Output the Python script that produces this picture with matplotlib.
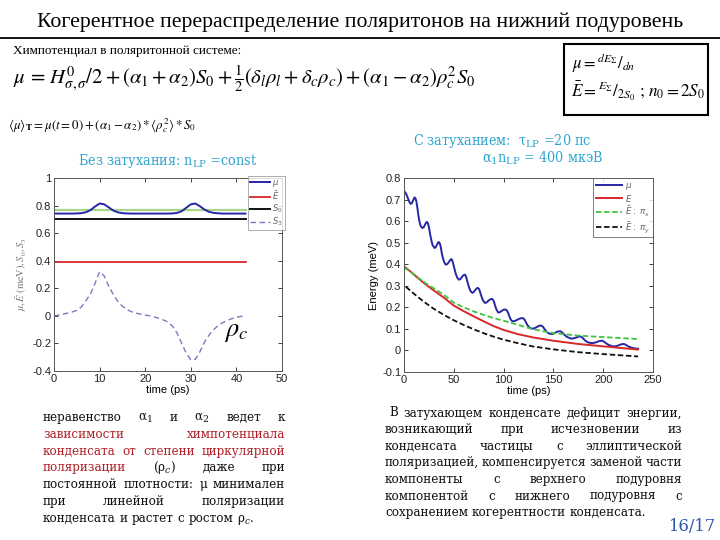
import matplotlib
matplotlib.use('Agg')
import matplotlib.pyplot as plt
from matplotlib.patches import Rectangle
from matplotlib.ticker import FuncFormatter

plt.rcParams['axes.unicode_minus'] = False

# ---- data ----
# left panel: no damping, n_LP = const
t_nd = list(range(0, 43))
mu_nd = [0.742, 0.742, 0.742, 0.742, 0.742, 0.743, 0.745, 0.752, 0.767, 0.793,
         0.815, 0.809, 0.787, 0.764, 0.751, 0.745, 0.743, 0.742, 0.742, 0.742,
         0.742, 0.742, 0.742, 0.742, 0.742, 0.742, 0.743, 0.747, 0.759, 0.784,
         0.809, 0.815, 0.795, 0.771, 0.755, 0.747, 0.744, 0.742, 0.742, 0.742,
         0.742, 0.742, 0.742]
s3_nd = [0.0, 0.005, 0.012, 0.02, 0.028, 0.04, 0.065, 0.11, 0.16, 0.235,
         0.32, 0.29, 0.215, 0.155, 0.105, 0.07, 0.045, 0.03, 0.02, 0.012,
         0.006, 0.0, -0.008, -0.018, -0.03, -0.045, -0.075, -0.125, -0.2, -0.27,
         -0.32, -0.315, -0.26, -0.19, -0.14, -0.1, -0.07, -0.05, -0.033, -0.02,
         -0.01, -0.004, 0.002]
t_flat = [0, 42]
e_nd = [0.39, 0.39]
s0_nd = [0.70, 0.70]
green_nd = [0.765, 0.765]

# right panel: damped, tau_LP = 20 ps
t_mu = [0, 2, 4, 5.5, 6.7, 8, 9.3, 10.5, 11.5, 12.5, 13.5, 14.5, 15.5, 16.7, 18.4,
        19.8, 21, 22, 23, 24, 25, 26.2, 27.5, 28.7, 30.8, 32, 33, 34, 35, 36, 37,
        38, 39, 40.3, 41.8, 43.5, 45, 46.5, 47.5, 48.5, 49.5, 50.8, 52, 53.5, 55.2,
        56.8, 58, 59.5, 61, 62, 63, 64.3, 65.5, 67, 68.6, 70, 71.5, 73, 74.3, 75.5,
        76.5, 77.5, 78.5, 80, 81.5, 83.3, 85, 87, 88.7, 90, 91, 92.5, 94.5, 96, 98,
        100, 102, 103.5, 104.5, 105.5, 106.5, 107.7, 109, 111.5, 114, 117, 119.5,
        121, 122.5, 124, 125.5, 127, 129, 131, 133, 135.5, 137.5, 139.5, 141, 143,
        144.5, 146, 148, 150, 152, 154.5, 157, 159, 161, 163, 165, 167, 169, 171,
        173, 175, 177, 179, 181, 183, 185, 187, 189, 191.5, 194, 196.5, 199, 201,
        203, 205, 207, 209, 211.5, 214, 216, 218.5, 220.5, 222.5, 224, 226, 228,
        230, 232, 235]
mu_d = [0.74, 0.728, 0.705, 0.688, 0.68, 0.684, 0.697, 0.71, 0.706, 0.69, 0.66,
        0.625, 0.598, 0.577, 0.568, 0.572, 0.582, 0.592, 0.596, 0.59, 0.572, 0.54,
        0.51, 0.488, 0.475, 0.48, 0.49, 0.499, 0.503, 0.496, 0.478, 0.45, 0.43,
        0.41, 0.398, 0.401, 0.41, 0.42, 0.424, 0.418, 0.40, 0.375, 0.355, 0.337,
        0.328, 0.332, 0.34, 0.348, 0.352, 0.346, 0.33, 0.308, 0.29, 0.274, 0.267,
        0.271, 0.28, 0.288, 0.29, 0.284, 0.27, 0.255, 0.24, 0.227, 0.22, 0.224,
        0.232, 0.238, 0.239, 0.23, 0.215, 0.193, 0.176, 0.177, 0.183, 0.189, 0.19,
        0.184, 0.175, 0.162, 0.15, 0.14, 0.135, 0.137, 0.143, 0.149, 0.15, 0.143,
        0.13, 0.117, 0.108, 0.103, 0.101, 0.103, 0.108, 0.114, 0.116, 0.11, 0.10,
        0.088, 0.082, 0.078, 0.076, 0.078, 0.083, 0.088, 0.089, 0.083, 0.073,
        0.065, 0.06, 0.056, 0.055, 0.057, 0.06, 0.064, 0.065, 0.06, 0.05, 0.042,
        0.037, 0.035, 0.034, 0.036, 0.04, 0.044, 0.045, 0.04, 0.033, 0.027, 0.023,
        0.02, 0.019, 0.021, 0.025, 0.029, 0.03, 0.027, 0.022, 0.017, 0.013, 0.011,
        0.009, 0.008]
t_e = [0, 5, 10, 15, 20, 25, 30, 40, 50, 60, 70, 80, 90, 100, 115, 130, 150, 175, 200, 235]
e_d = [0.39, 0.372, 0.352, 0.332, 0.313, 0.295, 0.278, 0.245, 0.208, 0.182, 0.158,
       0.135, 0.113, 0.095, 0.075, 0.06, 0.045, 0.03, 0.019, 0.004]
ex_d = [0.385, 0.37, 0.352, 0.335, 0.318, 0.302, 0.288, 0.258, 0.222, 0.2, 0.181,
        0.165, 0.15, 0.138, 0.118, 0.098, 0.08, 0.069, 0.062, 0.053]
t_ey = [2, 5, 10, 15, 20, 25, 30, 40, 50, 60, 70, 80, 90, 100, 115, 130, 150, 175, 200, 235]
ey_d = [0.295, 0.283, 0.263, 0.244, 0.226, 0.209, 0.193, 0.165, 0.14, 0.118, 0.098,
        0.08, 0.064, 0.05, 0.033, 0.018, 0.005, -0.008, -0.017, -0.028]

title = 'Когерентное перераспределение поляритонов на нижний подуровень'
left_par = [
    [('неравенство', 'k'), ('α$_1$', 'k'), ('и', 'k'), ('α$_2$', 'k'), ('ведет', 'k'), ('к', 'k')],
    [('зависимости', 'r'), ('химпотенциала', 'r')],
    [('конденсата', 'r'), ('от', 'r'), ('степени', 'r'), ('циркулярной', 'r')],
    [('поляризации', 'r'), ('(ρ$_c$)', 'k'), ('даже', 'k'), ('при', 'k')],
    [('постоянной', 'k'), ('плотности:', 'k'), ('μ', 'k'), ('минимален', 'k')],
    [('при', 'k'), ('линейной', 'k'), ('поляризации', 'k')],
    [('конденсата', 'k'), ('и', 'k'), ('растет', 'k'), ('с', 'k'), ('ростом', 'k'), ('ρ$_c$.', 'k')],
]
right_par = [
    'В затухающем конденсате дефицит энергии,',
    'возникающий при исчезновении из',
    'конденсата частицы с эллиптической',
    'поляризацией, компенсируется заменой части',
    'компоненты с верхнего подуровня',
    'компонентой с нижнего подуровня с',
    'сохранением когерентности конденсата.',
]

# ---- figure ----
W, H = 720, 540
fig = plt.figure(figsize=(7.2, 5.4), dpi=100)
renderer = fig.canvas.get_renderer()
BODY = 'DejaVu Serif'
SERIF = 'Liberation Serif'
CYAN = '#2ba3cf'
DARKRED = '#b0202a'


def fx(x):
    return x / W


def fy(y):
    return 1 - y / H


def fit(t, width):
    w = t.get_window_extent(renderer).width
    t.set_fontsize(t.get_fontsize() * width / w)


def put(x, y, s, width=None, **kw):
    t = fig.text(fx(x), fy(y), s, va='baseline', **kw)
    if width:
        fit(t, width)
    return t


# header
put(37, 27, title, width=645, family=SERIF, fontsize=16)
fig.add_artist(plt.Line2D([0, 1], [fy(37.5), fy(37.5)], color='k', lw=1.3))
put(13, 54, 'Химпотенциал в поляритонной системе:', width=230, family=SERIF, fontsize=10)
put(13, 84, r'$\mu\, =\, H^0_{\sigma,\sigma}/2 + (\alpha_1+\alpha_2)S_0 + \frac{1}{2}(\delta_l\rho_l + \delta_c\rho_c) + (\alpha_1-\alpha_2)\rho_c^2 S_0$',
    width=464, fontsize=14, math_fontfamily='stix')
put(8, 129, r'$\langle\mu\rangle_{\mathbf{T}} = \mu(t=0) + (\alpha_1-\alpha_2)*\langle\rho_c^2\rangle*S_0$',
    width=189, fontsize=9, math_fontfamily='stix')

fig.add_artist(Rectangle((fx(564), fy(115)), (708 - 564) / W, (115 - 44) / H,
                         transform=fig.transFigure, fill=False, ec='k', lw=1.5))
put(572, 69, r'$\mu = {}^{dE_\Sigma}/_{dn}$', fontsize=12, math_fontfamily='stix')
put(571, 97, r'$\bar{E} = {}^{E_\Sigma}/_{2S_0}\ ;\, n_0 = 2S_0$', width=134, fontsize=11,
    math_fontfamily='stix')

# cyan captions
cap = dict(family=BODY, fontstretch='condensed', color=CYAN, math_fontfamily='dejavuserif')
put(78, 165, 'Без затухания: n$_{\\mathrm{LP}}$ =const', width=180, fontsize=10, **cap)
put(413, 145, 'С затуханием:  τ$_{\\mathrm{LP}}$ =20 пс', width=178, fontsize=10, **cap)
put(482, 163, 'α$_{\\mathrm{1}}$n$_{\\mathrm{LP}}$ = 400 мкэВ', width=121, fontsize=10, **cap)


def style_axes(ax):
    ax.tick_params(direction='in', top=True, right=True, length=3, width=0.6,
                   labelsize=8, colors='#222222', pad=2)
    for sp in ax.spines.values():
        sp.set_color('#555555')
        sp.set_linewidth(0.7)
    ax.xaxis.set_major_formatter(FuncFormatter(lambda v, p: '%g' % round(v, 3)))
    ax.yaxis.set_major_formatter(FuncFormatter(lambda v, p: '%g' % round(v, 3)))
    for lab in ax.get_xticklabels() + ax.get_yticklabels():
        lab.set_family('Liberation Sans')


BLUE = '#2626a6'
RED = '#d8282a'

# left panel
ax1 = fig.add_axes([fx(54), fy(371), (282 - 54) / W, (371 - 178) / H])
ax1.plot(t_flat, green_nd, color='#a9d58a', lw=1.6)
ax1.plot(t_nd, mu_nd, color=BLUE, lw=1.4, label=r'$\mu$')
ax1.plot(t_flat, e_nd, color=RED, lw=1.3, label=r'$\bar{E}$')
ax1.plot(t_flat, s0_nd, color='#111111', lw=1.4, label=r'$S_0$')
ax1.plot(t_nd, s3_nd, color='#7a7ac0', lw=1.0, ls=(0, (4, 2.5)), label=r'$S_3$')
ax1.set_xlim(0, 50)
ax1.set_ylim(-0.4, 1)
ax1.set_xticks(range(0, 51, 10))
ax1.set_yticks([-0.4, -0.2, 0, 0.2, 0.4, 0.6, 0.8, 1])
style_axes(ax1)
ax1.set_xlabel('time (ps)', fontsize=8, family='Liberation Sans', labelpad=1)
ax1.set_ylabel(r'$\mu, \bar{E}\ \mathrm{(meV)}, S_0, S_3$', fontsize=7.5, color='#777777',
               math_fontfamily='stix', labelpad=2)
leg1 = ax1.legend(loc='upper right', bbox_to_anchor=(fx(285), fy(176)),
                  bbox_transform=fig.transFigure, fontsize=6, frameon=True, fancybox=False,
                  handlelength=2.4, handletextpad=0.3, borderpad=0.25, labelspacing=0.05,
                  borderaxespad=0)
leg1.get_frame().set_edgecolor('#888888')
leg1.get_frame().set_linewidth(0.6)
for t in leg1.get_texts():
    t.set_color('#666666')
put(224, 336, r'$\rho_c$', fontsize=19, math_fontfamily='stix')

# right panel
ax2 = fig.add_axes([fx(404), fy(372), (653 - 404) / W, (372 - 178) / H])
ax2.plot(t_mu, mu_d, color=BLUE, lw=1.4, label=r'$\mu$')
ax2.plot(t_e, e_d, color=RED, lw=1.4, label=r'$E$')
ax2.plot(t_e, ex_d, color='#3ec43e', lw=1.3, ls=(0, (3, 1.5)), label=r'$\bar{E}:\ \pi_x$')
ax2.plot(t_ey, ey_d, color='#111111', lw=1.3, ls=(0, (3, 1.5)), label=r'$\bar{E}:\ \pi_y$')
ax2.set_xlim(0, 250)
ax2.set_ylim(-0.1, 0.8)
ax2.set_xticks(range(0, 251, 50))
ax2.set_yticks([-0.1, 0, 0.1, 0.2, 0.3, 0.4, 0.5, 0.6, 0.7, 0.8])
style_axes(ax2)
ax2.set_xlabel('time (ps)', fontsize=8, family='Liberation Sans', labelpad=1)
ax2.set_ylabel('Energy (meV)', fontsize=8, family='Liberation Sans', labelpad=2)
leg2 = ax2.legend(loc='upper right', bbox_to_anchor=(fx(653), fy(178)),
                  bbox_transform=fig.transFigure, fontsize=6.3, frameon=True, fancybox=False,
                  handlelength=3.0, handletextpad=0.3, borderpad=0.3, labelspacing=0.1,
                  borderaxespad=0)
leg2.get_frame().set_edgecolor('#444444')
leg2.get_frame().set_linewidth(0.6)
for t in leg2.get_texts():
    t.set_color('#666666')

# paragraphs (justified)
probe = fig.text(0, 0, right_par[-1], family=BODY, fontstretch='condensed', fontsize=10)
body_size = 10 * 258 / probe.get_window_extent(renderer).width
probe.remove()
space = body_size * 100 / 72 * 0.3


def justify(parts, x0, x1, y, last=False):
    items = []
    for word, col in parts:
        items.append(fig.text(fx(x0), fy(y), word, family=BODY, fontstretch='condensed',
                              fontsize=body_size, va='baseline',
                              color=DARKRED if col == 'r' else '#111111',
                              math_fontfamily='dejavuserif'))
    widths = [a.get_window_extent(renderer).width for a in items]
    gap = space if last or len(items) < 2 else (x1 - x0 - sum(widths)) / (len(items) - 1)
    x = x0
    for a, w in zip(items, widths):
        a.set_x(fx(x))
        x += w + gap


for i, line in enumerate(left_par):
    justify(line, 43, 285, 421 + i * 16.8, last=(i == len(left_par) - 1))

for i, line in enumerate(right_par):
    x0 = 389 if i == 0 else 385
    justify([(w, 'k') for w in line.split()], x0, 682, 416.5 + i * 16.6,
            last=(i == len(right_par) - 1))

put(668, 531, '16/17', fontsize=13, family=BODY, color='#2a55a8', width=47)

fig.savefig('out.png', dpi=100, facecolor='white')
